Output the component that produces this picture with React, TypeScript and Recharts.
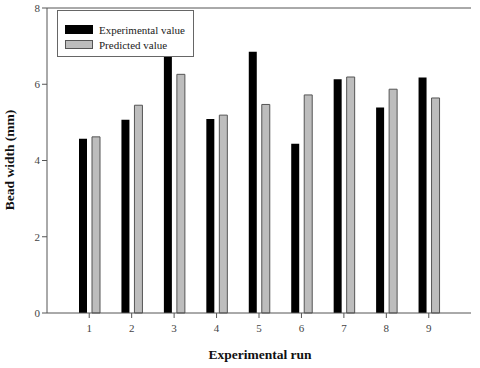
import { BarChart, Bar, XAxis, YAxis, Label, ReferenceLine } from "recharts";

const runs = ["1", "2", "3", "4", "5", "6", "7", "8", "9"];
const experimental = [4.57, 5.07, 7.1, 5.09, 6.85, 4.44, 6.13, 5.39, 6.18];
const predicted = [4.62, 5.45, 6.26, 5.19, 5.47, 5.72, 6.19, 5.87, 5.64];
const yTicks = [0, 2, 4, 6, 8];

const data = runs.map((r, i) => ({ run: r, exp: experimental[i], pred: predicted[i] }));

const FONT = "'Liberation Serif', 'Times New Roman', serif";
const AXIS = "#555";

// legend is drawn as an overlay so it does not shrink the plot area
function LegendBox() {
  const items = [
    { name: "Experimental value", fill: "#000", stroke: "#000" },
    { name: "Predicted value", fill: "#bdbdbd", stroke: "#555" },
  ];
  return (
    <div
      style={{
        position: "absolute",
        left: 57,
        top: 10,
        border: "1px solid #666",
        background: "#fff",
        width: 137,
        height: 47,
        boxSizing: "border-box",
        padding: "11px 0 0 7px",
      }}
    >
      {items.map((it) => (
        <div key={it.name} style={{ display: "flex", alignItems: "center", height: 15, fontFamily: FONT, fontSize: 11, color: "#222" }}>
          <span style={{ display: "inline-block", width: 26, height: 7, background: it.fill, border: `1px solid ${it.stroke}`, marginRight: 6 }} />
          {it.name}
        </div>
      ))}
    </div>
  );
}

export default function App() {
  return (
    <div style={{ position: "absolute", left: 0, top: 0, width: 480, height: 368, background: "#fff" }}>
      <BarChart width={480} height={368} data={data} margin={{ top: 8, right: 9, bottom: 20, left: 0 }} barGap={5} barSize={8}>
        <XAxis
          dataKey="run"
          padding={{ left: 21, right: 21 }}
          stroke={AXIS}
          tickSize={5}
          tickMargin={6}
          tick={{ fill: "#444", fontSize: 11, fontFamily: FONT }}
          height={35}
        >
          <Label
            content={() => (
              <text x={260} y={359} textAnchor="middle" fontFamily={FONT} fontWeight="bold" fontSize={13.5} fill="#111">
                Experimental run
              </text>
            )}
          />
        </XAxis>
        <YAxis
          domain={[0, 8]}
          ticks={yTicks}
          stroke={AXIS}
          tickSize={5}
          width={47}
          tick={{ fill: "#444", fontSize: 11, fontFamily: FONT }}
        >
          <Label
            content={() => (
              <text x={14} y={160} textAnchor="middle" transform="rotate(-90 14 160)" fontFamily={FONT} fontWeight="bold" fontSize={13.5} fill="#111">
                Bead width (mm)
              </text>
            )}
          />
        </YAxis>
        <YAxis yAxisId="r" orientation="right" width={0} tick={false} tickLine={false} stroke={AXIS} domain={[0, 8]} />
        <ReferenceLine y={8} stroke={AXIS} />
        <Bar dataKey="exp" name="Experimental value" fill="#000" isAnimationActive={false} />
        <Bar dataKey="pred" name="Predicted value" fill="#bdbdbd" stroke="#555" strokeWidth={1} isAnimationActive={false} />
      </BarChart>
      <LegendBox />
    </div>
  );
}
